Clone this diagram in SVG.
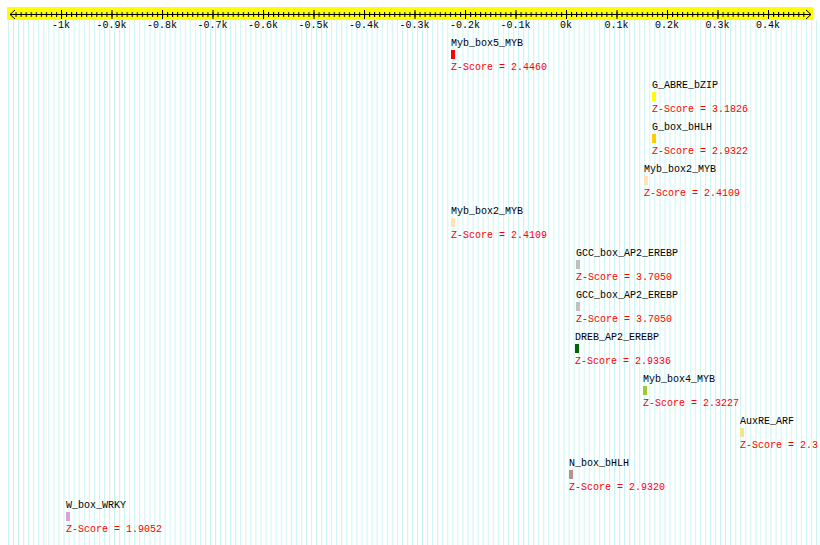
<svg xmlns="http://www.w3.org/2000/svg" width="820" height="545" viewBox="0 0 820 545">
<defs>
<pattern id="stripes" patternUnits="userSpaceOnUse" x="563.5" y="0" width="5.05" height="10">
<rect x="0" y="0" width="1" height="10" fill="#c8f4f4"/>
</pattern>
<pattern id="ticks" patternUnits="userSpaceOnUse" x="566" y="0" width="5.05" height="10">
<rect x="0" y="0" width="1" height="10" fill="#000"/>
</pattern>
<style>
.lbl{font-family:"Liberation Mono","DejaVu Sans Mono",monospace;font-size:10px;fill:#000}
.z{font-family:"Liberation Mono","DejaVu Sans Mono",monospace;font-size:10px;fill:#ff0000}
.ax{font-family:"Liberation Mono","DejaVu Sans Mono",monospace;font-size:10px;fill:#000;text-anchor:middle}
</style>
</defs>
<rect width="820" height="545" fill="#fff"/>
<rect x="8" y="20" width="812" height="525" fill="url(#stripes)"/>
<g id="ruler">
<rect x="7" y="7" width="806" height="13" fill="#ffff00"/>
<rect x="12" y="12" width="795" height="5" fill="url(#ticks)"/>
<path d="M10 14.5H811M15 10L10 14.5L15 19M806 10L811 14.5L806 19" fill="none" stroke="#000" stroke-width="1"/>
<path d="M61.5 10v9M112 10v9M162.5 10v9M213 10v9M263.5 10v9M314 10v9M364.5 10v9M415 10v9M465.5 10v9M516 10v9M566.5 10v9M617 10v9M667.5 10v9M718 10v9M768.5 10v9" stroke="#000" stroke-width="1"/>
<text class="ax" x="61" y="28">-1k</text>
<text class="ax" x="111.5" y="28">-0.9k</text>
<text class="ax" x="162" y="28">-0.8k</text>
<text class="ax" x="212.5" y="28">-0.7k</text>
<text class="ax" x="263" y="28">-0.6k</text>
<text class="ax" x="313.5" y="28">-0.5k</text>
<text class="ax" x="364" y="28">-0.4k</text>
<text class="ax" x="414.5" y="28">-0.3k</text>
<text class="ax" x="465" y="28">-0.2k</text>
<text class="ax" x="515.5" y="28">-0.1k</text>
<text class="ax" x="566" y="28">0k</text>
<text class="ax" x="616.5" y="28">0.1k</text>
<text class="ax" x="667" y="28">0.2k</text>
<text class="ax" x="717.5" y="28">0.3k</text>
<text class="ax" x="768" y="28">0.4k</text>
</g>
<g id="n1"><text class="lbl" x="451" y="46">Myb_box5_MYB</text><rect x="451" y="50" width="4" height="9" fill="#ff0000"/><text class="z" x="451" y="70">Z-Score = 2.4460</text></g>
<g id="n2"><text class="lbl" x="652" y="88">G_ABRE_bZIP</text><rect x="652" y="92" width="4" height="9" fill="#ffff00"/><text class="z" x="652" y="112">Z-Score = 3.1826</text></g>
<g id="n3"><text class="lbl" x="652" y="130">G_box_bHLH</text><rect x="652" y="134" width="4" height="9" fill="#ffcc00"/><text class="z" x="652" y="154">Z-Score = 2.9322</text></g>
<g id="n4"><text class="lbl" x="644" y="172">Myb_box2_MYB</text><rect x="644" y="176" width="4" height="9" fill="#ffe4b5"/><text class="z" x="644" y="196">Z-Score = 2.4109</text></g>
<g id="n5"><text class="lbl" x="451" y="214">Myb_box2_MYB</text><rect x="451" y="218" width="4" height="9" fill="#ffe4b5"/><text class="z" x="451" y="238">Z-Score = 2.4109</text></g>
<g id="n6"><text class="lbl" x="576" y="256">GCC_box_AP2_EREBP</text><rect x="576" y="260" width="4" height="9" fill="#c0c0c0"/><text class="z" x="576" y="280">Z-Score = 3.7050</text></g>
<g id="n7"><text class="lbl" x="576" y="298">GCC_box_AP2_EREBP</text><rect x="576" y="302" width="4" height="9" fill="#c0c0c0"/><text class="z" x="576" y="322">Z-Score = 3.7050</text></g>
<g id="n8"><text class="lbl" x="575" y="340">DREB_AP2_EREBP</text><rect x="575" y="344" width="4" height="9" fill="#006400"/><text class="z" x="575" y="364">Z-Score = 2.9336</text></g>
<g id="n9"><text class="lbl" x="643" y="382">Myb_box4_MYB</text><rect x="643" y="386" width="4" height="9" fill="#9acd32"/><text class="z" x="643" y="406">Z-Score = 2.3227</text></g>
<g id="n10"><text class="lbl" x="740" y="424">AuxRE_ARF</text><rect x="740" y="428" width="4" height="9" fill="#f0e68c"/><text class="z" x="740" y="448">Z-Score = 2.3</text></g>
<g id="n11"><text class="lbl" x="569" y="466">N_box_bHLH</text><rect x="569" y="470" width="4" height="9" fill="#bc8f8f"/><text class="z" x="569" y="490">Z-Score = 2.9320</text></g>
<g id="n12"><text class="lbl" x="66" y="508">W_box_WRKY</text><rect x="66" y="512" width="4" height="9" fill="#dda0dd"/><text class="z" x="66" y="532">Z-Score = 1.9052</text></g>
<g id="connectors"/>
</svg>
